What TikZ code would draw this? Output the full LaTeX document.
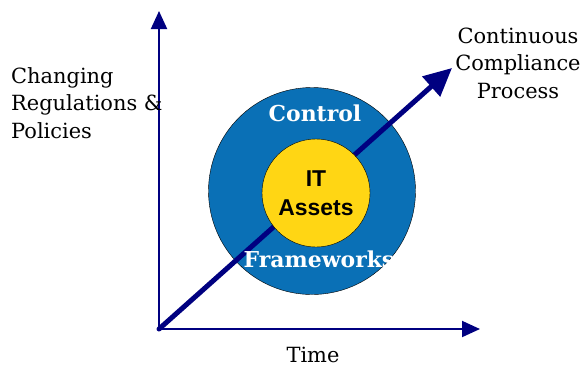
\documentclass[tikz,border=0pt]{standalone}
\usepackage{fontspec}
\setmainfont{DejaVu Serif}
\newfontfamily\arialf{Liberation Sans}
\usetikzlibrary{arrows.meta}
\definecolor{navy}{RGB}{0,0,128}
\definecolor{ringblue}{RGB}{10,112,182}
\definecolor{assetyellow}{RGB}{255,214,20}
\tikzset{
  axisline/.style={navy, line width=2bp, -{Triangle[length=18bp,width=16bp]}},
  trendline/.style={navy, line width=5bp, line cap=round, -{Triangle[length=28bp,width=26bp]}},
  label/.style={font=\fontsize{21}{27.5}\selectfont, align=left, inner sep=0pt},
  ringtext/.style={font=\fontsize{22}{25}\selectfont\bfseries, text=white, inner sep=0pt, anchor=base},
}
\begin{document}
\begin{tikzpicture}[x=1bp,y=-1bp]
\useasboundingbox (0,0) rectangle (583,366);
\coordinate (O) at (159,329);
\coordinate (ytip) at (159,11);
\coordinate (xtip) at (480,329);
\coordinate (dtip) at (452,68);
\node[circle, draw=black, fill=ringblue, minimum size=207bp, inner sep=0pt] (outer) at (312,191) {};
\draw[axisline] (O) -- (ytip);
\draw[axisline] (O) -- (xtip);
\draw[trendline] (O) -- (dtip);
\node[circle, draw=black, fill=assetyellow, minimum size=108bp, inner sep=0pt] (inner) at (316,193) {};
\node[ringtext] (control) at (315,121) {Control};
\node[ringtext] (frame) at (319,267) {Frameworks};
\node[font=\arialf\fontsize{23}{29}\selectfont\bfseries, align=center, inner sep=0pt, anchor=base] (it) at (316,215) {IT\\Assets};
\node[label, anchor=base west] (reg) at (11,138) {Changing\\Regulations \&\\Policies};
\node[label, align=center, anchor=base] (ccp) at (518,98) {Continuous\\Compliance\\Process};
\node[label, anchor=base] (time) at (313,362) {Time};
\end{tikzpicture}
\end{document}
